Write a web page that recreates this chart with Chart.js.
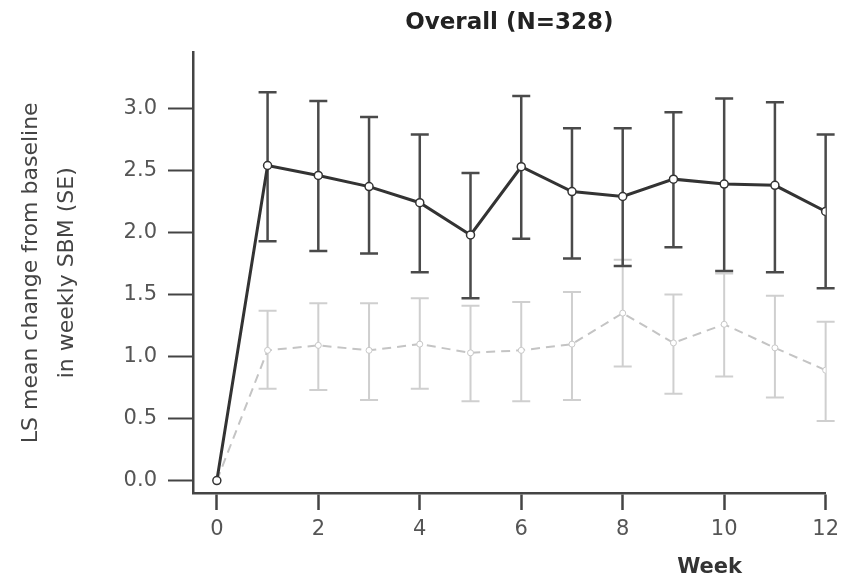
<!DOCTYPE html>
<html>
<head>
<meta charset="utf-8">
<script src="https://cdn.jsdelivr.net/npm/chart.js@4.4.1/dist/chart.umd.min.js"></script>
<style>
  body { margin: 0; background: #fff; }
  canvas { display: block; }
</style>
</head>
<body>
<canvas id="myChart" width="846" height="582"></canvas>
<script>
// Chart data
const weeks = [0, 1, 2, 3, 4, 5, 6, 7, 8, 9, 10, 11, 12];
const xTickValues = [0, 2, 4, 6, 8, 10, 12];
const yTickValues = [0, 0.5, 1.0, 1.5, 2.0, 2.5, 3.0];

// dark solid series (mean and SE limits)
const darkMean  = [0, 2.54, 2.46, 2.37, 2.24, 1.98, 2.53, 2.33, 2.29, 2.43, 2.39, 2.38, 2.17];
const darkUpper = [null, 3.13, 3.06, 2.93, 2.79, 2.48, 3.10, 2.84, 2.84, 2.97, 3.08, 3.05, 2.79];
const darkLower = [null, 1.93, 1.85, 1.83, 1.68, 1.47, 1.95, 1.79, 1.73, 1.88, 1.69, 1.68, 1.55];

// light dashed series
const lightMean  = [0, 1.05, 1.09, 1.05, 1.10, 1.03, 1.05, 1.10, 1.35, 1.11, 1.26, 1.07, 0.89];
const lightUpper = [null, 1.37, 1.43, 1.43, 1.47, 1.41, 1.44, 1.52, 1.78, 1.50, 1.67, 1.49, 1.28];
const lightLower = [null, 0.74, 0.73, 0.65, 0.74, 0.64, 0.64, 0.65, 0.92, 0.70, 0.84, 0.67, 0.48];

const FONT = "'DejaVu Sans', 'Liberation Sans', Arial, sans-serif";

function toPoints(values) {
    return weeks.map((w, i) => ({ x: w, y: values[i] }));
}

// draws the SE bars behind the lines
const errorBarsPlugin = {
    id: 'errorBars',
    beforeDatasetsDraw(chart) {
        const ctx = chart.ctx;
        const xScale = chart.scales.x;
        const yScale = chart.scales.y;
        const sets = [
            { lower: lightLower, upper: lightUpper, color: '#cfcfcf', width: 2 },
            { lower: darkLower, upper: darkUpper, color: '#4a4a4a', width: 2.5 }
        ];
        ctx.save();
        sets.forEach(s => {
            ctx.strokeStyle = s.color;
            ctx.lineWidth = s.width;
            weeks.forEach((w, i) => {
                if (s.lower[i] == null) return;
                const x = xScale.getPixelForValue(w);
                const yTop = yScale.getPixelForValue(s.upper[i]);
                const yBot = yScale.getPixelForValue(s.lower[i]);
                const cap = 9;
                ctx.beginPath();
                ctx.moveTo(x, yTop);
                ctx.lineTo(x, yBot);
                ctx.moveTo(x - cap, yTop);
                ctx.lineTo(x + cap, yTop);
                ctx.moveTo(x - cap, yBot);
                ctx.lineTo(x + cap, yBot);
                ctx.stroke();
            });
        });
        ctx.restore();
    }
};

// "Week" sits under the 10 tick in the reference, not centred
const weekLabelPlugin = {
    id: 'weekLabel',
    afterDraw(chart) {
        const ctx = chart.ctx;
        ctx.save();
        ctx.font = 'bold 21px ' + FONT;
        ctx.fillStyle = '#333';
        ctx.textAlign = 'center';
        ctx.textBaseline = 'middle';
        ctx.fillText('Week', chart.chartArea.right - 116, 568);
        ctx.restore();
    }
};

const ctx = document.getElementById('myChart').getContext('2d');
new Chart(ctx, {
    type: 'line',
    data: {
        datasets: [
            {
                label: 'Dark series',
                data: toPoints(darkMean),
                borderColor: '#333',
                borderWidth: 3,
                tension: 0,
                pointRadius: 4,
                pointBackgroundColor: '#fff',
                pointBorderColor: '#333',
                pointBorderWidth: 1.5
            },
            {
                label: 'Light series',
                data: toPoints(lightMean),
                borderColor: '#c4c4c4',
                borderWidth: 2,
                borderDash: [9, 6],
                tension: 0,
                pointRadius: 3,
                pointBackgroundColor: '#fff',
                pointBorderColor: '#c8c8c8',
                pointBorderWidth: 1
            }
        ]
    },
    options: {
        responsive: false,
        animation: false,
        devicePixelRatio: 1,
        layout: { padding: { left: 0, right: 18, top: 0, bottom: 0 } },
        plugins: {
            legend: { display: false },
            tooltip: { enabled: false },
            title: {
                display: true,
                text: 'Overall (N=328)',
                fullSize: false,
                color: '#222',
                font: { family: FONT, size: 23, weight: 'bold', lineHeight: 1.2 },
                padding: { top: 9, bottom: 16 }
            }
        },
        scales: {
            x: {
                type: 'linear',
                min: -0.47,
                max: 12,
                afterFit(scale) { scale.height = 89; },
                afterBuildTicks(scale) { scale.ticks = xTickValues.map(v => ({ value: v })); },
                grid: {
                    display: true,
                    drawOnChartArea: false,
                    drawTicks: true,
                    tickLength: 17,
                    tickColor: '#444',
                    tickWidth: 2.5
                },
                border: { display: true, color: '#444', width: 2.5 },
                ticks: {
                    color: '#555',
                    padding: 7,
                    maxRotation: 0,
                    font: { family: FONT, size: 21 }
                }
            },
            y: {
                min: -0.1,
                max: 3.45,
                afterFit(scale) { scale.width = 193; },
                afterBuildTicks(scale) { scale.ticks = yTickValues.map(v => ({ value: v })); },
                grid: {
                    display: true,
                    drawOnChartArea: false,
                    drawTicks: true,
                    tickLength: 25,
                    tickColor: '#444',
                    tickWidth: 2
                },
                border: { display: true, color: '#444', width: 2.5 },
                ticks: {
                    color: '#555',
                    padding: 11,
                    font: { family: FONT, size: 21 },
                    callback: v => v.toFixed(1)
                },
                title: {
                    display: true,
                    text: ['LS mean change from baseline', 'in weekly SBM (SE)'],
                    color: '#444',
                    font: { family: FONT, size: 22, lineHeight: 1.6 },
                    padding: { top: 14, bottom: 0 }
                }
            }
        }
    },
    plugins: [errorBarsPlugin, weekLabelPlugin]
});
</script>
</body>
</html>
